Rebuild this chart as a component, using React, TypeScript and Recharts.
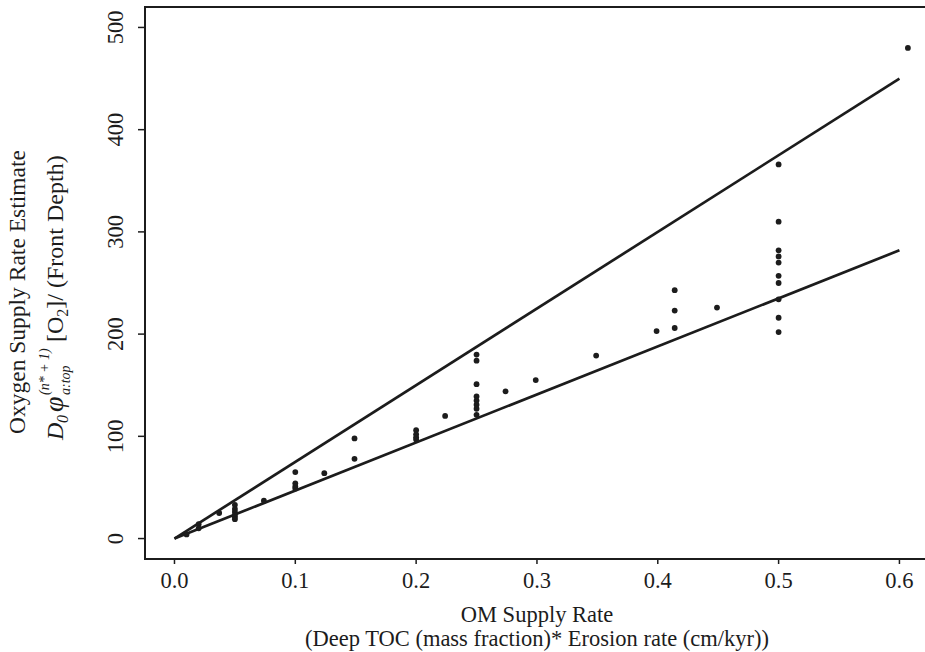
import { ScatterChart, Scatter, XAxis, YAxis, ReferenceArea, Label } from "recharts";

// OM supply rate levels and the oxygen supply estimates observed at each
const rateLevels = [0.01, 0.02, 0.037, 0.05, 0.074, 0.1, 0.124, 0.149, 0.2, 0.224, 0.25, 0.274, 0.299, 0.349, 0.399, 0.414, 0.449, 0.5, 0.607];
const oxygenAtRate = [
  [4],
  [14, 10],
  [25],
  [33, 29, 26, 23, 21, 19],
  [37],
  [65, 54, 51, 49],
  [64],
  [98, 78],
  [106, 102, 99, 97],
  [120],
  [180, 174, 151, 139, 135, 131, 127, 121],
  [144],
  [155],
  [179],
  [203],
  [243, 223, 206],
  [226],
  [366, 310, 282, 276, 270, 257, 250, 234, 216, 202],
  [480],
];

// the two bounding lines
const fitRates = [0, 0.6];
const upperFit = [0, 450];
const lowerFit = [0, 282];

const xTicks = [0, 0.1, 0.2, 0.3, 0.4, 0.5, 0.6];
const yTicks = [0, 100, 200, 300, 400, 500];

const points = rateLevels.flatMap((r, i) => oxygenAtRate[i].map((v) => ({ x: r, y: v })));
const upperLine = fitRates.map((x, i) => ({ x, y: upperFit[i] }));
const lowerLine = fitRates.map((x, i) => ({ x, y: lowerFit[i] }));

const INK = "#1c1c1c";
const FONT = '"Liberation Serif", "Times New Roman", serif';

function XTick({ x, y, payload }: any) {
  return (
    <text x={x} y={y + 22} textAnchor="middle" fontFamily={FONT} fontSize={22.5} fill={INK}>
      {Number(payload.value).toFixed(1)}
    </text>
  );
}

function YTick({ x, y, payload }: any) {
  const bx = x - 13;
  return (
    <text x={bx} y={y} transform={`rotate(-90 ${bx} ${y})`} textAnchor="middle" fontFamily={FONT} fontSize={22.5} fill={INK}>
      {payload.value}
    </text>
  );
}

function XTitle() {
  return (
    <g fontFamily={FONT} fontSize={22.5} fill={INK} textAnchor="middle">
      <text x={537} y={622}>OM Supply Rate</text>
      <text x={537} y={646}>(Deep TOC (mass fraction)* Erosion rate (cm/kyr))</text>
    </g>
  );
}

function YTitle() {
  return (
    <g fontFamily={FONT} fill={INK}>
      <text transform="translate(25 434) rotate(-90)" fontSize={23.5}>Oxygen Supply Rate Estimate</text>
      <g transform="translate(63 440) rotate(-90)">
        <text x={0} y={0} fontSize={24} fontStyle="italic">D</text>
        <text x={17} y={5} fontSize={16} fontStyle="italic">0</text>
        <text x={28} y={0} fontSize={28} fontStyle="italic">φ</text>
        <text x={45} y={-14} fontSize={14} fontStyle="italic">(n* + 1)</text>
        <text x={45} y={7} fontSize={14} fontStyle="italic">a:top</text>
        <text x={98} y={0} fontSize={24}>
          [O<tspan fontSize={16} dy={5}>2</tspan>
          <tspan dy={-5}>]/ (Front Depth)</tspan>
        </text>
      </g>
    </g>
  );
}

export default function App() {
  return (
    <div style={{ position: "absolute", left: 0, top: 0, width: 925, height: 652, overflow: "hidden", background: "#fff" }}>
      <ScatterChart width={941} height={652} margin={{ top: 7, right: 0, bottom: 0, left: 0 }}>
        <XAxis
          type="number"
          dataKey="x"
          domain={[-0.0244, 0.6344]}
          ticks={xTicks}
          height={93}
          tickSize={5}
          axisLine={false}
          tickLine={{ stroke: INK, strokeWidth: 1.5 }}
          tick={<XTick />}
          allowDataOverflow
        >
          <Label content={() => <XTitle />} />
        </XAxis>
        <YAxis
          type="number"
          dataKey="y"
          domain={[-20, 520]}
          ticks={yTicks}
          width={145}
          tickSize={7}
          axisLine={false}
          tickLine={{ stroke: INK, strokeWidth: 1.5 }}
          tick={<YTick />}
          allowDataOverflow
        >
          <Label content={() => <YTitle />} />
        </YAxis>
        <ReferenceArea x1={-0.0244} x2={0.6344} y1={-20} y2={520} fill="none" stroke={INK} strokeWidth={2} />
        <Scatter data={upperLine} line={{ stroke: INK, strokeWidth: 2.7 }} shape={() => <g />} isAnimationActive={false} />
        <Scatter data={lowerLine} line={{ stroke: INK, strokeWidth: 2.7 }} shape={() => <g />} isAnimationActive={false} />
        <Scatter
          data={points}
          shape={(p: any) => <circle cx={p.cx} cy={p.cy} r={2.9} fill={INK} />}
          isAnimationActive={false}
        />
      </ScatterChart>
    </div>
  );
}
